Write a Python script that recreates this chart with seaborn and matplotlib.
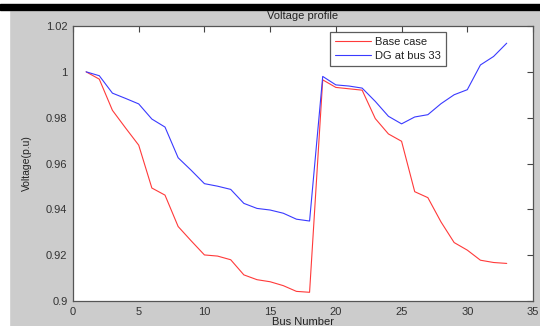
import matplotlib
matplotlib.use("Agg")
import matplotlib.pyplot as plt
import seaborn as sns
import pandas as pd
from matplotlib.patches import Rectangle

bus = list(range(1, 34))
base_case = [1.0, 0.9968, 0.9832, 0.9755, 0.968, 0.9493, 0.9462, 0.9325, 0.9262, 0.9201,
             0.9196, 0.918, 0.9114, 0.9093, 0.9084, 0.9067, 0.9042, 0.9038, 0.9965, 0.9932,
             0.9926, 0.992, 0.9796, 0.9729, 0.9697, 0.9477, 0.9451, 0.9345, 0.9255, 0.9222,
             0.9178, 0.9168, 0.9164]
dg_bus33 = [1.0, 0.9983, 0.9907, 0.9884, 0.986, 0.9794, 0.9759, 0.9625, 0.957, 0.9512,
            0.9501, 0.9487, 0.9426, 0.9404, 0.9397, 0.9383, 0.9357, 0.9349, 0.998, 0.9943,
            0.9938, 0.9929, 0.9871, 0.9806, 0.9773, 0.9803, 0.9813, 0.9861, 0.99, 0.9922,
            1.003, 1.0067, 1.0125]
series_names = ["Base case", "DG at bus 33"]
x_ticks = [0, 5, 10, 15, 20, 25, 30, 35]
y_ticks = [0.9, 0.92, 0.94, 0.96, 0.98, 1.0, 1.02]
y_tick_labels = ["0.9", "0.92", "0.94", "0.96", "0.98", "1", "1.02"]

df = pd.DataFrame({
    "Bus": bus * 2,
    "V": base_case + dg_bus33,
    "Case": [series_names[0]] * len(bus) + [series_names[1]] * len(bus),
})

sns.set_style("white")
plt.rcParams["font.family"] = ["Liberation Sans", "DejaVu Sans"]

W, H = 540, 326
fig = plt.figure(figsize=(W / 100, H / 100), dpi=100, facecolor="#cccccc")
# white margins and black bar at top
fig.patches.append(Rectangle((0, 0), 9 / W, 1, transform=fig.transFigure, color="white", zorder=0))
fig.patches.append(Rectangle((0, 1 - 10 / H), 1, 10 / H, transform=fig.transFigure, color="white", zorder=0))
fig.patches.append(Rectangle((0, 1 - 10 / H), 1, 6 / H, transform=fig.transFigure, color="black", zorder=1))

left, right, top, bottom = 73, 533, 26, 301
ax = fig.add_axes([left / W, 1 - bottom / H, (right - left) / W, (bottom - top) / H])
ax.set_facecolor("white")

sns.lineplot(data=df, x="Bus", y="V", hue="Case", palette=["#ff3a3a", "#3a3aff"],
             linewidth=0.8, ax=ax, legend=True)

ax.set_xlim(0, 35)
ax.set_ylim(0.9, 1.02)
ax.set_xticks(x_ticks)
ax.set_yticks(y_ticks)
ax.set_yticklabels(y_tick_labels)
ax.tick_params(direction="in", length=4, width=0.8, colors="#444444", labelsize=8,
               top=True, right=True, labelcolor="#333333", pad=4)
for s in ax.spines.values():
    s.set_color("#555555")
    s.set_linewidth(0.9)

ax.set_title("Voltage profile", fontsize=8, color="#222222", pad=5)
ax.set_xlabel("Bus Number", fontsize=8, color="#222222", labelpad=0)
ax.set_ylabel("Voltage(p.u)", fontsize=7.5, color="#222222", labelpad=10)

leg = ax.legend(loc="upper left", bbox_to_anchor=((330 - left) / (right - left), (bottom - 32) / (bottom - top)),
                fontsize=8, frameon=True, fancybox=False, borderpad=0.45, handlelength=3.2,
                handletextpad=0.4, labelspacing=0.35, borderaxespad=0)
leg.get_frame().set_edgecolor("#333333")
leg.get_frame().set_linewidth(0.9)
for t in leg.get_texts():
    t.set_color("#222222")

fig.savefig("out.png", dpi=100, facecolor=fig.get_facecolor())
